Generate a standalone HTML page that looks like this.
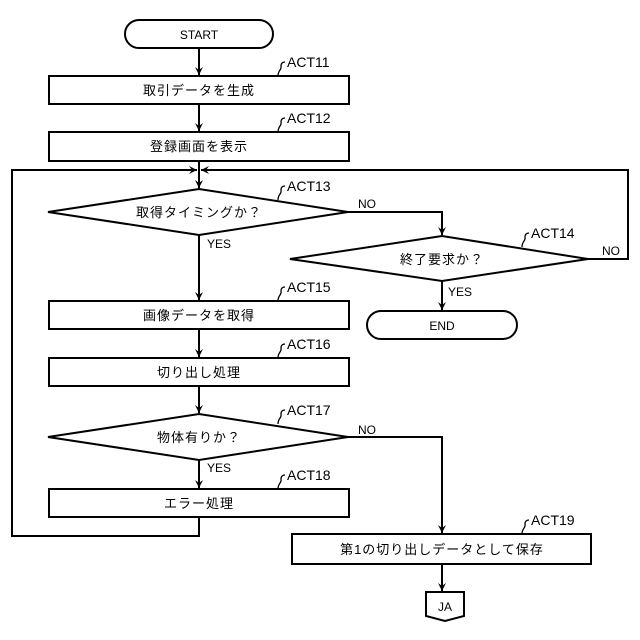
<!DOCTYPE html>
<html><head><meta charset="utf-8"><style>
html,body{margin:0;padding:0;background:#fff;}
svg{display:block;}
text{font-family:"Liberation Sans","Noto Sans CJK JP",sans-serif;fill:#000;}
.j{font-size:13px;letter-spacing:1px;}
.a{font-size:14px;}
.s{font-size:12px;}
</style></head><body>
<svg width="640" height="640" viewBox="0 0 640 640" xmlns="http://www.w3.org/2000/svg">
<defs>
<marker id="ar" markerWidth="10" markerHeight="10" refX="8" refY="5" orient="auto" markerUnits="userSpaceOnUse">
<path d="M0,1 L8,5 L0,9 L3,5 Z" fill="#000"/>
</marker>
</defs>
<g fill="none" stroke="#000" stroke-width="2">
<!-- shapes -->
<rect x="125" y="20" width="148" height="28" rx="14"/>
<rect x="49" y="76" width="300" height="28"/>
<rect x="49" y="132" width="300" height="29"/>
<polygon points="48,212 199,189 348,212 199,235"/>
<polygon points="290,259 442,236 588,259 442,281"/>
<rect x="367" y="311" width="150" height="28" rx="14"/>
<rect x="49" y="301" width="300" height="28"/>
<rect x="49" y="358" width="300" height="28"/>
<polygon points="48,437 199,414 348,437 199,460"/>
<rect x="49" y="489" width="300" height="28"/>
<rect x="292" y="534" width="299" height="30"/>
<polygon points="426,592 464,592 464,616 445,621 426,616"/>
<!-- connectors -->
<line x1="199" y1="48" x2="199" y2="75" marker-end="url(#ar)"/>
<line x1="199" y1="104" x2="199" y2="131" marker-end="url(#ar)"/>
<line x1="199" y1="161" x2="199" y2="188" marker-end="url(#ar)"/>
<polyline points="348,212 442,212 442,235" marker-end="url(#ar)"/>
<polyline points="588,259 628,259 628,170 201,170" marker-end="url(#ar)"/>
<line x1="442" y1="281" x2="442" y2="310" marker-end="url(#ar)"/>
<line x1="199" y1="235" x2="199" y2="300" marker-end="url(#ar)"/>
<line x1="199" y1="329" x2="199" y2="357" marker-end="url(#ar)"/>
<line x1="199" y1="386" x2="199" y2="413" marker-end="url(#ar)"/>
<line x1="199" y1="460" x2="199" y2="488" marker-end="url(#ar)"/>
<polyline points="199,517 199,536 12,536 12,170 197,170" marker-end="url(#ar)"/>
<polyline points="348,437 442,437 442,533" marker-end="url(#ar)"/>
<line x1="442" y1="564" x2="442" y2="591" marker-end="url(#ar)"/>
</g>
<!-- hooks -->
<g fill="none" stroke="#000" stroke-width="1.3">
<path d="M278,76 C278,70 282,70 281,66 C281,63 283,62 285,62"/>
<path d="M278,132 C278,126 282,126 281,122 C281,119 283,118 285,118"/>
<path d="M278,200 C278,194 282,194 281,190 C281,187 283,186 285,186"/>
<path d="M522,247 C522,241 526,241 525,237 C525,234 527,233 529,233"/>
<path d="M278,301 C278,295 282,295 281,291 C281,288 283,287 285,287"/>
<path d="M278,358 C278,352 282,352 281,348 C281,345 283,344 285,344"/>
<path d="M278,424 C278,418 282,418 281,414 C281,411 283,410 285,410"/>
<path d="M278,489 C278,483 282,483 281,479 C281,476 283,475 285,475"/>
<path d="M522,534 C522,528 526,528 525,524 C525,521 527,520 529,520"/>
</g>
<!-- text -->
<text x="199" y="39" class="s" text-anchor="middle">START</text>
<text x="199" y="95" class="j" text-anchor="middle">取引データを生成</text>
<text x="199" y="151" class="j" text-anchor="middle">登録画面を表示</text>
<text x="199" y="217" class="j" text-anchor="middle">取得タイミングか？</text>
<text x="442" y="264" class="j" text-anchor="middle">終了要求か？</text>
<text x="442" y="330" class="s" text-anchor="middle">END</text>
<text x="199" y="320" class="j" text-anchor="middle">画像データを取得</text>
<text x="199" y="377" class="j" text-anchor="middle">切り出し処理</text>
<text x="199" y="442" class="j" text-anchor="middle">物体有りか？</text>
<text x="199" y="508" class="j" text-anchor="middle">エラー処理</text>
<text x="442" y="554" class="j" text-anchor="middle">第1の切り出しデータとして保存</text>
<text x="445" y="611" class="s" text-anchor="middle">JA</text>
<text x="287" y="67" class="a">ACT11</text>
<text x="287" y="123" class="a">ACT12</text>
<text x="287" y="191" class="a">ACT13</text>
<text x="531" y="238" class="a">ACT14</text>
<text x="287" y="292" class="a">ACT15</text>
<text x="287" y="349" class="a">ACT16</text>
<text x="287" y="415" class="a">ACT17</text>
<text x="287" y="480" class="a">ACT18</text>
<text x="531" y="525" class="a">ACT19</text>
<text x="358" y="208" class="s">NO</text>
<text x="207" y="248" class="s">YES</text>
<text x="602" y="255" class="s">NO</text>
<text x="448" y="296" class="s">YES</text>
<text x="358" y="434" class="s">NO</text>
<text x="207" y="472" class="s">YES</text>
</svg>
</body></html>
